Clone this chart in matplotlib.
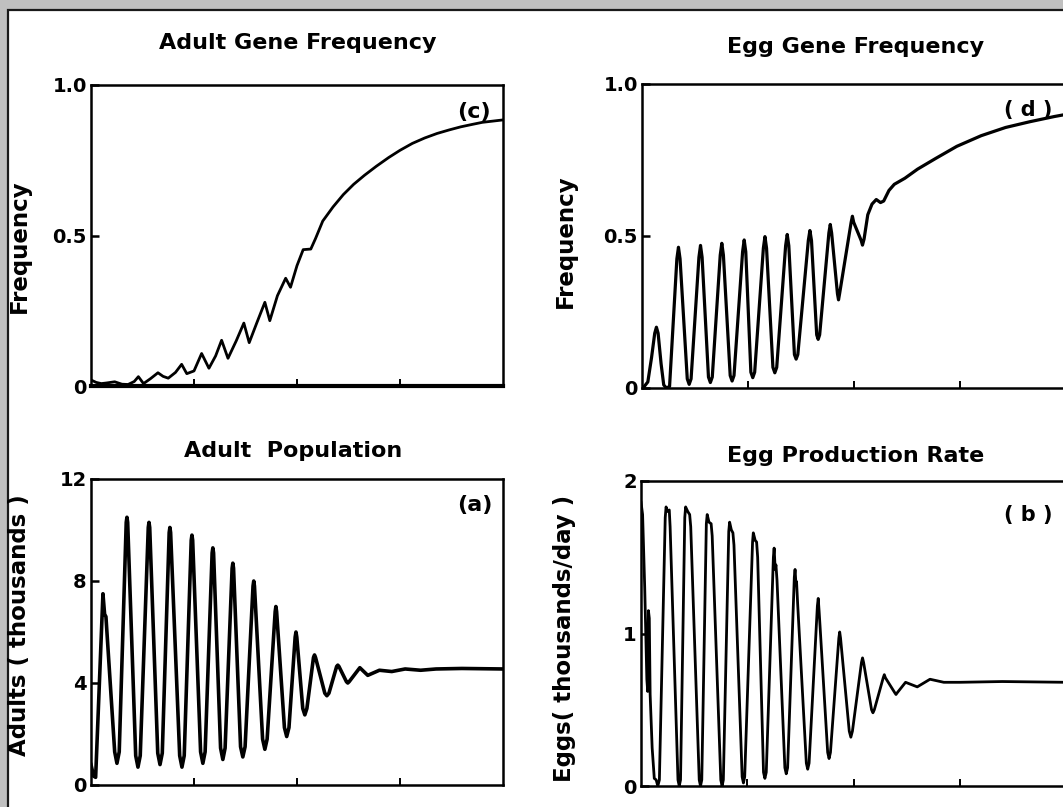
import matplotlib
matplotlib.use("Agg")
import matplotlib.pyplot as plt
from matplotlib.patches import Rectangle

# ---------------- data ----------------
# (c) Adult gene frequency
adult_freq_x = [0, 5, 10, 15, 23, 30, 36, 42, 46, 51, 58, 65, 70, 75, 82, 88, 93, 100,
                107.4, 114.5, 121, 126.8, 133, 141, 148.4, 153.6, 161, 168.8, 173.6, 181,
                189, 193.7, 200, 206, 213.4, 218, 225, 235, 245, 255, 265.5, 277, 289, 300,
                312, 324, 336, 348, 359, 370, 380, 390, 400]
adult_freq_y = [0.02, 0.012, 0.008, 0.01, 0.014, 0.006, 0.005, 0.015, 0.031, 0.008, 0.025,
                0.044, 0.032, 0.026, 0.045, 0.072, 0.041, 0.05, 0.108, 0.059, 0.1, 0.152,
                0.092, 0.15, 0.209, 0.144, 0.21, 0.278, 0.217, 0.3, 0.358, 0.328, 0.4,
                0.453, 0.455, 0.49, 0.548, 0.595, 0.636, 0.67, 0.70, 0.73, 0.759, 0.783,
                0.806, 0.824, 0.839, 0.851, 0.861, 0.869, 0.876, 0.88, 0.884]

# (d) Egg gene frequency
egg_freq_x = [1, 5.5, 9, 12, 13.6, 15.2, 18, 20.5, 23, 26,
              32.9, 34.4, 35.9, 42.7, 44.5, 46.3,
              53.7, 55.2, 56.7, 62.7, 64.5, 66.3,
              73.8, 75.3, 76.8, 83.2, 85, 86.8,
              94.9, 96.4, 97.9, 102.7, 104.5, 106.3,
              114.5, 116, 117.5, 123.5, 125.3, 127.1,
              135.5, 137, 138.5, 143.8, 145.4, 147,
              156.9, 158.4, 159.9, 164.8, 166.2, 167.6,
              176.3, 177.6, 178.9, 184.4, 185.4, 186.4,
              197.3, 198.5, 199.7, 206.8, 208, 209.5,
              213, 217, 221, 225, 228, 233, 238, 243, 248, 260, 277, 297, 320, 343,
              366, 389, 400]
egg_freq_y = [0.0, 0.02, 0.1, 0.18, 0.2, 0.18, 0.08, 0.01, 0.0, 0.005,
              0.425, 0.463, 0.425, 0.03, 0.012, 0.03,
              0.43, 0.469, 0.43, 0.036, 0.018, 0.036,
              0.437, 0.476, 0.437, 0.041, 0.023, 0.041,
              0.448, 0.487, 0.448, 0.052, 0.034, 0.052,
              0.46, 0.498, 0.46, 0.068, 0.05, 0.068,
              0.468, 0.505, 0.468, 0.11, 0.095, 0.11,
              0.485, 0.518, 0.485, 0.175, 0.16, 0.175,
              0.51, 0.538, 0.51, 0.31, 0.29, 0.31,
              0.545, 0.565, 0.545, 0.485, 0.47, 0.49,
              0.57, 0.605, 0.62, 0.61, 0.615, 0.65, 0.67, 0.68, 0.69, 0.72, 0.755,
              0.795, 0.83, 0.857, 0.876, 0.893, 0.90]

# (a) Adult population (thousands)
adults_x = [0, 2.5, 4.5, 11.6, 13.2, 14.5,
            23.0, 25.2, 27.4, 34.2, 34.9, 35.6,
            43.4, 45.6, 47.8, 55.6, 56.3, 57.0,
            64.8, 67.0, 69.2, 75.9, 76.6, 77.3,
            86.1, 88.3, 90.5, 97.3, 98.0, 98.7,
            106.4, 108.6, 110.8, 117.6, 118.3, 119.0,
            125.8, 128.0, 130.2, 137.0, 137.7, 138.4,
            145.2, 147.4, 149.6, 157.3, 158.0, 158.7,
            166.6, 168.8, 171.0, 178.8, 179.5, 180.2,
            187.8, 190.0, 192.2, 198.2, 199.0, 199.8,
            205.6, 207.6, 209.6, 216.0, 217.0, 218.0,
            227.0, 229.0, 231.0, 238.5, 239.6, 240.7,
            248.0, 249.3, 250.6, 261.0, 268.7, 280.0, 292.0,
            305, 320, 335, 360, 400]
adults_y = [0.8, 0.35, 0.3, 7.5, 6.7, 6.6,
            1.3, 0.85, 1.3, 10.3, 10.5, 10.3,
            1.15, 0.7, 1.15, 10.1, 10.3, 10.1,
            1.25, 0.8, 1.25, 9.9, 10.1, 9.9,
            1.15, 0.7, 1.15, 9.6, 9.8, 9.6,
            1.3, 0.85, 1.3, 9.1, 9.3, 9.1,
            1.45, 1.0, 1.45, 8.5, 8.7, 8.5,
            1.5, 1.1, 1.5, 7.8, 8.0, 7.8,
            1.8, 1.4, 1.8, 6.8, 7.0, 6.8,
            2.25, 1.9, 2.25, 5.8, 6.0, 5.8,
            3.0, 2.75, 3.0, 5.0, 5.1, 5.0,
            3.6, 3.5, 3.6, 4.65, 4.7, 4.65,
            4.05, 4.0, 4.05, 4.6, 4.3, 4.5, 4.45,
            4.55, 4.5, 4.55, 4.57, 4.55]

# (b) Egg production rate (thousands/day)
eggs_x = [0, 1.5, 3.5, 5.5, 6.3, 7.0, 7.8, 8.6, 10.5, 12.5, 14.3, 15.8, 17.3,
          22.8, 23.6, 25.0, 26.6, 27.4, 34.8, 36.0, 37.2,
          41.2, 42.0, 44.0, 45.8, 46.8, 54.8, 56.0, 57.2,
          61.5, 62.3, 64.0, 66.0, 67.0, 75.1, 76.3, 77.5,
          82.6, 83.4, 85.0, 86.5, 87.5, 95.2, 96.4, 97.6,
          105.0, 105.7, 107.5, 108.8, 109.8, 115.3, 116.6, 117.9,
          124.6, 125.3, 126.3, 127.0, 128.0, 135.4, 136.7, 138.0,
          144.3, 145.0, 145.8, 146.4, 147.4, 155.6, 156.9, 158.2,
          166.0, 166.8, 167.6, 168.5, 175.7, 177.0, 178.3,
          186.2, 187.0, 187.8, 196.0, 197.5, 199.0,
          207.5, 208.5, 209.5, 217.0, 218.3, 219.6,
          228.0, 229.0, 230.0, 239.0, 240.0, 241.0,
          249, 260, 272, 285, 300, 340, 400]
eggs_y = [1.86, 1.78, 1.3, 0.7, 0.62, 1.15, 1.1, 0.6, 0.25, 0.05, 0.04, 0.0, 0.04,
          1.76, 1.83, 1.80, 1.81, 1.70, 0.04, 0.0, 0.04,
          1.76, 1.83, 1.80, 1.78, 1.70, 0.04, 0.0, 0.04,
          1.72, 1.78, 1.73, 1.72, 1.64, 0.04, 0.0, 0.04,
          1.67, 1.73, 1.68, 1.66, 1.58, 0.06, 0.02, 0.06,
          1.60, 1.66, 1.61, 1.60, 1.50, 0.09, 0.05, 0.09,
          1.50, 1.56, 1.42, 1.45, 1.35, 0.12, 0.08, 0.12,
          1.37, 1.42, 1.33, 1.34, 1.20, 0.15, 0.11, 0.15,
          1.18, 1.23, 1.15, 1.05, 0.22, 0.18, 0.22,
          0.97, 1.01, 0.97, 0.36, 0.32, 0.36,
          0.81, 0.84, 0.81, 0.50, 0.48, 0.50,
          0.71, 0.73, 0.71, 0.61, 0.60, 0.61,
          0.68, 0.65, 0.70, 0.68, 0.68, 0.685, 0.68]

x_ticks = [100, 200, 300]
c_yticks, c_ylabels = [0, 0.5, 1.0], ["0", "0.5", "1.0"]
d_yticks, d_ylabels = [0, 0.5, 1.0], ["0", "0.5", "1.0"]
a_yticks, a_ylabels = [0, 4, 8, 12], ["0", "4", "8", "12"]
b_yticks, b_ylabels = [0, 1, 2], ["0", "1", "2"]

# ---------------- figure ----------------
W, H = 1063, 807
plt.rcParams['font.family'] = ['DejaVu Sans']
plt.rcParams['font.weight'] = 'bold'
fig = plt.figure(figsize=(W / 100, H / 100), dpi=100)
fig.patch.set_facecolor('#c0c0c0')
fig.add_artist(Rectangle((7.5 / W, -0.05), 1.2, 1 - 9.5 / H + 0.05,
                         transform=fig.transFigure, facecolor='white',
                         edgecolor='#1a1a1a', linewidth=1.6, zorder=-10))


def px_axes(x0, y0, x1, y1):
    return fig.add_axes([x0 / W, 1 - y1 / H, (x1 - x0) / W, (y1 - y0) / H])


def style(ax, ymax, yticks, ylabels):
    ax.set_xlim(0, 400)
    ax.set_ylim(0, ymax)
    ax.set_xticks(x_ticks)
    ax.set_xticklabels([])
    ax.set_yticks(yticks)
    ax.set_yticklabels(ylabels)
    ax.tick_params(axis='x', direction='in', length=5, width=1.4)
    ax.tick_params(axis='y', direction='in', length=6, width=1.8,
                   labelsize=14, pad=3)
    for s in ax.spines.values():
        s.set_linewidth(1.8)


def ftext(x, y, s, size=16, rot=0):
    fig.text(x / W, 1 - y / H, s, ha='center', va='center', fontsize=size,
             fontweight='bold', rotation=rot)


ax_c = px_axes(91, 85, 503, 386)
ax_d = px_axes(642, 84, 1066, 388)
ax_a = px_axes(91, 479, 503, 785)
ax_b = px_axes(641, 481, 1066, 786)

ax_c.plot(adult_freq_x, adult_freq_y, color='black', lw=2.0,
          solid_joinstyle='round')
style(ax_c, 1.0, c_yticks, c_ylabels)
ax_c.spines['bottom'].set_linewidth(3)
ax_c.text(0.93, 0.91, "(c)", transform=ax_c.transAxes, ha='center', va='center',
          fontsize=16, fontweight='bold')

ax_d.plot(egg_freq_x, egg_freq_y, color='black', lw=2.3, solid_joinstyle='round')
style(ax_d, 1.0, d_yticks, d_ylabels)
ax_d.text(0.91, 0.914, "( d )", transform=ax_d.transAxes, ha='center', va='center',
          fontsize=15, fontweight='bold')

ax_a.plot(adults_x, adults_y, color='black', lw=2.6, solid_joinstyle='round')
style(ax_a, 12, a_yticks, a_ylabels)
ax_a.text(0.932, 0.915, "(a)", transform=ax_a.transAxes, ha='center', va='center',
          fontsize=16, fontweight='bold')

ax_b.plot(eggs_x, eggs_y, color='black', lw=2.0, solid_joinstyle='round')
style(ax_b, 2, b_yticks, b_ylabels)
ax_b.text(0.91, 0.889, "( b )", transform=ax_b.transAxes, ha='center', va='center',
          fontsize=15, fontweight='bold')

ftext(298, 43, "Adult Gene Frequency")
ftext(856, 47, "Egg Gene Frequency")
ftext(293, 451, "Adult  Population")
ftext(856, 456, "Egg Production Rate")

ftext(19, 246, "Frequency", 16.5, 90)
ftext(565, 241, "Frequency", 16.5, 90)
ftext(20, 625, "Adults ( thousands )", 16.5, 90)
ftext(565, 638, "Eggs( thousands/day )", 16.5, 90)

fig.savefig("out.png", dpi=100)
